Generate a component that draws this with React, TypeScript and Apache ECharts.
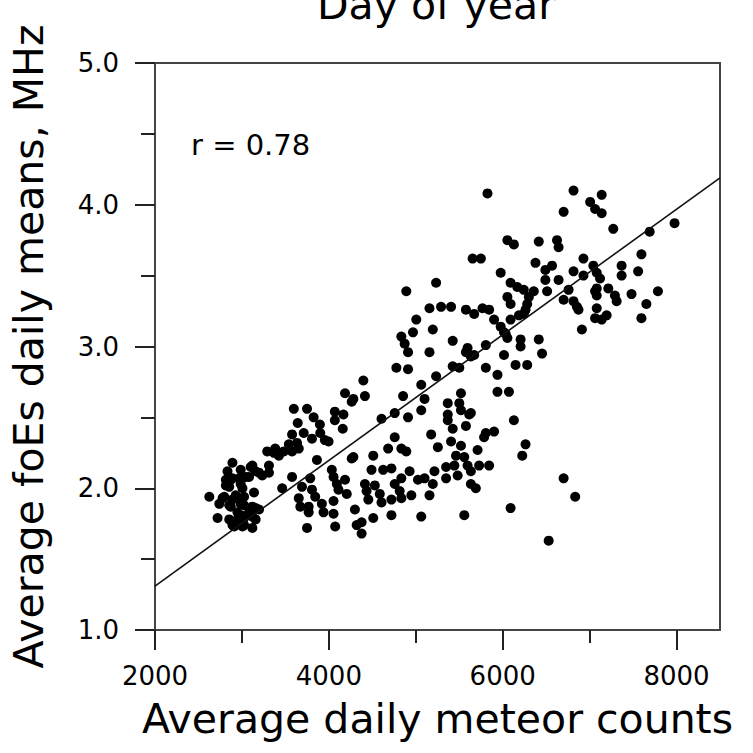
import React, { useEffect, useRef } from "react";
import * as echarts from "echarts";

// Daily means: average meteor counts vs. average foEs (MHz)
const meteorCounts: number[] = [
  4186, 4263, 3597, 3749, 4069, 4168, 3825, 3642, 3897, 4069, 4160, 3711, 3577, 3806, 3954, 3997,
  3634, 3540, 3383, 3291, 3482, 3577, 3654, 3425, 4263, 3863, 2891, 3311, 3101, 2986, 2834, 3158,
  3234, 3044, 2891, 2815, 2986, 4034, 4054, 3577, 3786, 4092, 4186, 2854, 3006, 3139, 3463, 3691,
  4111, 4206, 2625, 2797, 2929, 2986, 2740, 2872, 3025, 3120, 3654, 3672, 3843, 3920, 4054, 3768,
  3939, 4054, 2949, 3082, 3158, 2720, 2854, 2949, 3025, 3120, 2891, 3006, 3120, 3749, 4073,
  3368, 3120, 3197, 3311, 2968, 3082, 2815, 2777, 2891, 3025, 2854, 2986, 3197, 2986, 2911, 3025,
  3158, 2872,
  4911, 5158, 5577, 5672, 4777, 4911, 5425, 5501, 5806, 5940, 5234, 4397, 5063, 4282, 4415, 4854,
  5101, 5520, 5940, 5368, 5501, 5063, 5520, 4606, 4758, 4911, 5368, 5615, 5368, 5425, 5577, 3901,
  5806, 5901, 4758, 5177, 5406, 5520, 5254, 4682, 4834, 4891, 5711, 5463, 5558, 4282, 4511, 5444,
  5596, 5729, 5844, 4491, 4625, 4720, 4929, 5349, 5215, 5634, 4834, 5025, 5101, 5349, 5482, 4415,
  4529, 4758, 5196, 5634, 5691, 3806, 4434, 4586, 4815, 4949, 5158, 4454, 4606, 4720, 4834, 3768,
  4300, 4720, 5063, 5558, 4377, 4511, 4320, 4377,
  5654, 5749, 6377, 6568, 6929, 7043, 5977, 6491, 6815, 6491, 6643, 6929, 5234, 6091, 6168, 4891,
  6243, 6358, 6511, 6758, 7063, 6054, 6301, 6091, 6282, 6701, 6815, 5158, 5291, 5406, 5577, 5768,
  5844, 6263, 6872, 5672, 7063, 5006, 5901, 6091, 6187, 5977, 5196, 4968, 6015, 6911, 4834, 6054,
  6206, 6415, 5425, 5596, 5806, 6206, 6015, 6453, 5634, 6148, 6282, 6072, 5634, 6129, 6263,
  5825, 6815, 7139, 7006, 7063, 7139, 6701, 7272, 7977, 7691, 6054, 6129, 6415, 6625, 6643, 7596,
  7368, 7082, 7368, 7558, 7120, 7082, 7215, 7786, 7482, 7082, 7291, 7311, 7653, 6854, 7082, 6244,
  7196, 7139, 7596, 6034,
  5786, 6225, 6701, 6834, 6091, 6529, 4872,
];

const foEsMeans: number[] = [
  2.67, 2.61, 2.56, 2.56, 2.54, 2.52, 2.5, 2.46, 2.45, 2.48, 2.42, 2.39, 2.38, 2.35, 2.34, 2.33,
  2.32, 2.31, 2.28, 2.26, 2.26, 2.26, 2.28, 2.23, 2.21, 2.2, 2.18, 2.16, 2.15, 2.13, 2.12, 2.12,
  2.09, 2.08, 2.07, 2.06, 2.03, 2.13, 2.08, 2.08, 2.07, 2.03, 2.06, 2.01, 2.0, 1.97, 2.0, 2.01,
  1.99, 1.96, 1.94, 1.94, 1.95, 1.92, 1.89, 1.87, 1.88, 1.87, 1.93, 1.87, 1.94, 1.89, 1.91, 1.83,
  1.83, 1.82, 1.83, 1.83, 1.86, 1.79, 1.78, 1.78, 1.79, 1.8, 1.74, 1.73, 1.72, 1.72, 1.73,
  2.25, 2.16, 2.11, 2.11, 2.07, 2.08, 2.02, 1.93, 1.92, 1.94, 1.88, 1.89, 1.85, 1.81, 1.73, 1.74,
  1.78, 2.06,
  2.96, 2.96, 2.96, 2.94, 2.85, 2.84, 2.86, 2.85, 2.85, 2.8, 2.79, 2.76, 2.73, 2.63, 2.65, 2.65,
  2.63, 2.67, 2.68, 2.6, 2.6, 2.55, 2.55, 2.49, 2.53, 2.5, 2.52, 2.52, 2.48, 2.42, 2.44, 2.39,
  2.39, 2.4, 2.36, 2.38, 2.33, 2.3, 2.29, 2.28, 2.28, 2.26, 2.27, 2.23, 2.22, 2.22, 2.23, 2.16,
  2.16, 2.16, 2.16, 2.13, 2.13, 2.14, 2.12, 2.15, 2.12, 2.12, 2.07, 2.06, 2.07, 2.07, 2.09, 2.03,
  2.02, 2.03, 2.03, 2.03, 2.0, 1.99, 1.98, 1.96, 1.98, 1.95, 1.95, 1.92, 1.9, 1.92, 1.93, 1.87,
  1.85, 1.81, 1.8, 1.81, 1.76, 1.79, 1.74, 1.68,
  3.62, 3.62, 3.59, 3.57, 3.62, 3.57, 3.52, 3.54, 3.53, 3.47, 3.47, 3.5, 3.45, 3.45, 3.42, 3.39,
  3.4, 3.39, 3.39, 3.4, 3.39, 3.35, 3.35, 3.3, 3.3, 3.33, 3.32, 3.27, 3.28, 3.28, 3.26, 3.27,
  3.26, 3.26, 3.26, 3.23, 3.2, 3.19, 3.19, 3.19, 3.22, 3.14, 3.12, 3.1, 3.1, 3.12, 3.07, 3.06,
  3.05, 3.05, 3.04, 2.99, 3.01, 3.0, 2.94, 2.95, 2.93, 2.87, 2.87, 2.68, 2.53, 2.48, 2.31,
  4.08, 4.1, 4.07, 4.02, 3.97, 3.94, 3.95, 3.83, 3.87, 3.81, 3.75, 3.72, 3.74, 3.75, 3.7, 3.65,
  3.57, 3.52, 3.5, 3.53, 3.48, 3.41, 3.41, 3.39, 3.37, 3.36, 3.36, 3.32, 3.3, 3.28, 3.27, 3.23,
  3.22, 3.19, 3.2, 3.09,
  2.36, 2.23, 2.07, 1.94, 1.86, 1.63, 3.02,
];

// Least-squares fit line, evaluated at the ends of the x range
const fitCounts: number[] = [2000, 8500];
const fitFoEs: number[] = [1.31, 4.19];

// Tick positions
const xMajorTicks: number[] = [2000, 4000, 6000, 8000];
const xMinorTicks: number[] = [3000, 5000, 7000];
const yMajorTicks: number[] = [1, 2, 3, 4, 5];
const yMinorTicks: number[] = [1.5, 2.5, 3.5, 4.5];

const FONT = '"DejaVu Sans", "Open Sans", sans-serif';
const AXIS_COLOR = "#444";
const TICK_COLOR = "#222";

export default function App() {
  const ref = useRef<HTMLDivElement | null>(null);

  useEffect(() => {
    if (!ref.current) return;
    const chart = echarts.init(ref.current, undefined, { renderer: "svg" });

    const points = meteorCounts.map((c, i) => [c, foEsMeans[i]]);
    const fit = fitCounts.map((c, i) => [c, fitFoEs[i]]);

    const xBase = { type: "value", min: 2000, max: 8500, interval: 500, splitLine: { show: false } };
    const yBase = { type: "value", min: 1, max: 5, interval: 0.5, splitLine: { show: false } };

    chart.setOption({
      animation: false,
      backgroundColor: "#ffffff",
      grid: {
        left: 152,
        right: 33,
        top: 63,
        bottom: 123,
        show: true,
        borderColor: AXIS_COLOR,
        borderWidth: 2,
        backgroundColor: "transparent",
      },
      xAxis: [
        {
          ...xBase,
          position: "bottom",
          axisLine: { show: true, lineStyle: { color: AXIS_COLOR, width: 2 } },
          axisTick: {
            show: true,
            customValues: xMajorTicks,
            length: 20,
            lineStyle: { color: TICK_COLOR, width: 2 },
          },
          axisLabel: {
            customValues: xMajorTicks,
            formatter: (v: number) => String(v),
            fontSize: 26,
            fontFamily: FONT,
            color: "#000",
            margin: 33,
          },
          name: "Average daily meteor counts",
          nameLocation: "middle",
          nameGap: 68,
          nameTextStyle: { fontSize: 41, fontFamily: FONT, color: "#000" },
        },
        {
          ...xBase,
          position: "bottom",
          axisLine: { show: false },
          axisTick: {
            show: true,
            customValues: xMinorTicks,
            length: 13,
            lineStyle: { color: TICK_COLOR, width: 2 },
          },
          axisLabel: { show: false },
        },
      ],
      yAxis: [
        {
          ...yBase,
          position: "left",
          axisLine: { show: true, lineStyle: { color: AXIS_COLOR, width: 2 } },
          axisTick: {
            show: true,
            customValues: yMajorTicks,
            length: 20,
            lineStyle: { color: TICK_COLOR, width: 2 },
          },
          axisLabel: {
            customValues: yMajorTicks,
            formatter: (v: number) => v.toFixed(1),
            fontSize: 26,
            fontFamily: FONT,
            color: "#000",
            margin: 36,
          },
          name: "Average foEs daily means, MHz",
          nameLocation: "middle",
          nameGap: 106,
          nameRotate: 90,
          nameTextStyle: { fontSize: 41, fontFamily: FONT, color: "#000" },
        },
        {
          ...yBase,
          position: "left",
          axisLine: { show: false },
          axisTick: {
            show: true,
            customValues: yMinorTicks,
            length: 14,
            lineStyle: { color: TICK_COLOR, width: 2 },
          },
          axisLabel: { show: false },
        },
      ],
      graphic: [
        {
          type: "text",
          x: 436,
          y: 5,
          style: {
            text: "Day of year",
            fontSize: 41,
            fontFamily: FONT,
            fill: "#000",
            align: "center",
            verticalAlign: "middle",
          },
        },
        {
          type: "text",
          x: 191,
          y: 145,
          style: {
            text: "r = 0.78",
            fontSize: 29,
            fontFamily: FONT,
            fill: "#000",
            align: "left",
            verticalAlign: "middle",
          },
        },
      ],
      series: [
        {
          type: "scatter",
          xAxisIndex: 0,
          yAxisIndex: 0,
          data: points,
          symbol: "circle",
          symbolSize: 10,
          itemStyle: { color: "#000", opacity: 1 },
        },
        {
          type: "line",
          xAxisIndex: 0,
          yAxisIndex: 0,
          data: fit,
          symbol: "none",
          lineStyle: { color: "#111", width: 1.6 },
        },
      ],
    });

    return () => chart.dispose();
  }, []);

  return (
    <div
      ref={ref}
      style={{ position: "fixed", left: 0, top: 0, width: 753, height: 753, background: "#fff" }}
    />
  );
}
